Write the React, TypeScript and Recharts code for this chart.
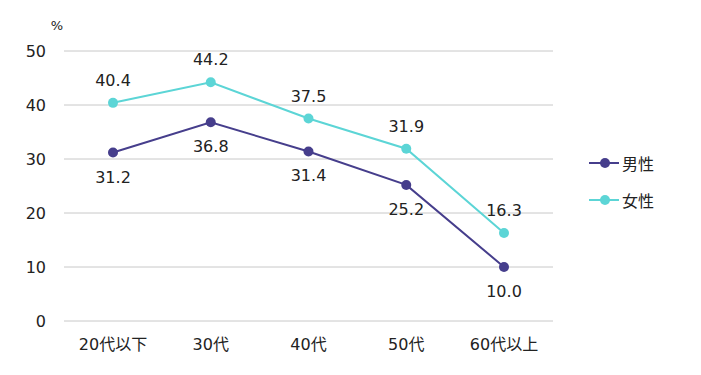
import React from 'react';
import { LineChart, Line, XAxis, YAxis, CartesianGrid, LabelList } from 'recharts';

const categories = ['20代以下', '30代', '40代', '50代', '60代以上'];
const maleValues = [31.2, 36.8, 31.4, 25.2, 10.0];
const femaleValues = [40.4, 44.2, 37.5, 31.9, 16.3];
const yTicks = [0, 10, 20, 30, 40, 50];
const seriesNames = ['男性', '女性'];

const MALE = '#463e8c';
const FEMALE = '#5cd5d6';
const FONT = "'DejaVu Sans', Verdana, 'Noto Sans CJK JP', sans-serif";

const data = categories.map((name, i) => ({
  name,
  [seriesNames[0]]: maleValues[i],
  [seriesNames[1]]: femaleValues[i],
}));

const makeLabel = (dy: number) => (props: any) => {
  const { x, y, value } = props;
  return (
    <text x={x} y={y + dy} textAnchor="middle" fontSize={16} fill="#222" fontFamily={FONT}>
      {Number(value).toFixed(1)}
    </text>
  );
};

// legend drawn beside the chart so it doesn't eat into the plot area
const SideLegend = () => {
  const colors = [MALE, FEMALE];
  return (
    <div style={{ position: 'absolute', left: 589, top: 144, fontFamily: FONT, fontSize: 16, color: '#222' }}>
      {seriesNames.map((name, i) => (
        <div key={name} style={{ display: 'flex', alignItems: 'center', height: 37 }}>
          <svg width={32} height={12}>
            <line x1={0} y1={6} x2={30} y2={6} stroke={colors[i]} strokeWidth={2} />
            <circle cx={16} cy={6} r={5} fill={colors[i]} />
          </svg>
          <span style={{ marginLeft: 1 }}>{name}</span>
        </div>
      ))}
    </div>
  );
};

export default function App() {
  return (
    <div style={{ position: 'absolute', left: 0, top: 0, width: 701, height: 375, background: '#fff' }}>
      <LineChart
        width={701}
        height={375}
        data={data}
        margin={{ top: 51, right: 148, left: 0, bottom: 24 }}
      >
        <CartesianGrid vertical={false} stroke="#c8c8c8" />
        <XAxis
          dataKey="name"
          axisLine={false}
          tickLine={false}
          tickMargin={12}
          height={30}
          padding={{ left: 49, right: 49 }}
          tick={{ fontSize: 16, fill: '#222', fontFamily: FONT }}
          interval={0}
        />
        <YAxis
          domain={[0, 50]}
          ticks={yTicks}
          axisLine={false}
          tickLine={false}
          tickMargin={12}
          width={64}
          tick={{ fontSize: 16, fill: '#222', fontFamily: FONT }}
          label={(props: any) => {
            const vb = props.viewBox;
            return (
              <text x={vb.x + vb.width - 7} y={vb.y - 21} textAnchor="middle" fontSize={13} fill="#222" fontFamily={FONT}>
                %
              </text>
            );
          }}
        />
        <Line
          dataKey="男性"
          stroke={MALE}
          strokeWidth={2}
          dot={{ r: 5, fill: MALE, stroke: MALE, strokeWidth: 0 }}
          isAnimationActive={false}
        >
          <LabelList dataKey="男性" content={makeLabel(30)} />
        </Line>
        <Line
          dataKey="女性"
          stroke={FEMALE}
          strokeWidth={2}
          dot={{ r: 5, fill: FEMALE, stroke: FEMALE, strokeWidth: 0 }}
          isAnimationActive={false}
        >
          <LabelList dataKey="女性" content={makeLabel(-17)} />
        </Line>
      </LineChart>
      <SideLegend />
    </div>
  );
}
